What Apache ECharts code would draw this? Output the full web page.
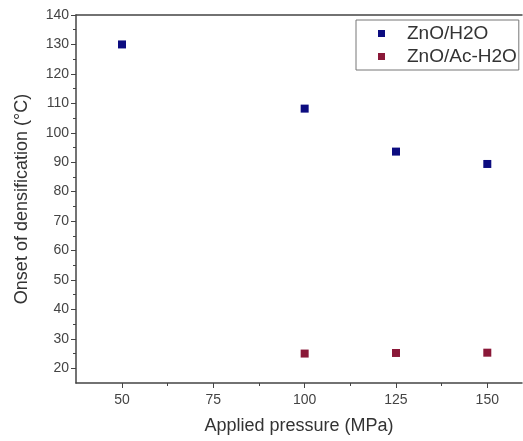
<!DOCTYPE html>
<html>
<head>
<meta charset="utf-8">
<script src="https://cdn.jsdelivr.net/npm/echarts@6/dist/echarts.min.js"></script>
<style>html,body{margin:0;padding:0;background:#fff;}#c{width:523px;height:441px;}</style>
</head>
<body>
<div id="c"></div>
<script>
const pressure = [50, 100, 125, 150];
const znoH2O = [130, 108.2, 93.6, 89.4];
const acPressure = [100, 125, 150];
const znoAcH2O = [25.0, 25.2, 25.3];
const xTicks = [50, 75, 100, 125, 150];
const xMinor = [62.5, 87.5, 112.5, 137.5];
const yTicks = [20, 30, 40, 50, 60, 70, 80, 90, 100, 110, 120, 130, 140];
const yMinor = [25, 35, 45, 55, 65, 75, 85, 95, 105, 115, 125, 135];

const font = 'Liberation Sans, Arial, sans-serif';
const chart = echarts.init(document.getElementById('c'));
const X = {min: 37.4, max: 159.5};
const Y = {min: 15, max: 140};
chart.setOption({
  animation: false,
  grid: {left: 76, right: 1, top: 15, bottom: 58},
  legend: {
    orient: 'vertical', left: 356, top: 20, padding: [4, 2, 4, 22],
    borderColor: '#777', borderWidth: 1, itemWidth: 7, itemHeight: 7, itemGap: 4,
    textStyle: {fontFamily: font, fontSize: 19, color: '#333', padding: [0, 0, 0, 17]},
    data: [{name: 'ZnO/H2O', icon: 'rect'}, {name: 'ZnO/Ac-H2O', icon: 'rect'}]
  },
  xAxis: [
    {type: 'value', ...X, position: 'bottom',
     name: 'Applied pressure (MPa)', nameLocation: 'middle', nameGap: 34,
     nameTextStyle: {fontFamily: font, fontSize: 18, color: '#333'},
     axisLine: {lineStyle: {color: '#444', width: 1.5}},
     axisTick: {show: true, length: 5, inside: false, customValues: xTicks, lineStyle: {color: '#444'}},
     axisLabel: {customValues: xTicks, fontFamily: font, fontSize: 14, color: '#444', margin: 10},
     splitLine: {show: false}},
    {type: 'value', ...X, position: 'bottom', gridIndex: 0,
     axisLine: {show: false},
     axisTick: {show: true, length: 3, customValues: xMinor, lineStyle: {color: '#444'}},
     axisLabel: {show: false}, splitLine: {show: false}},
    {type: 'value', ...X, position: 'top',
     axisLine: {show: true, lineStyle: {color: '#444', width: 1.5}},
     axisTick: {show: false}, axisLabel: {show: false}, splitLine: {show: false}}
  ],
  yAxis: [
    {type: 'value', ...Y, position: 'left',
     name: 'Onset of densification (°C)', nameLocation: 'middle', nameGap: 45,
     nameTextStyle: {fontFamily: font, fontSize: 18, color: '#333'},
     axisLine: {show: true, lineStyle: {color: '#444', width: 1.5}},
     axisTick: {show: true, length: 5, customValues: yTicks, lineStyle: {color: '#444'}},
     axisLabel: {customValues: yTicks, fontFamily: font, fontSize: 14, color: '#444', margin: 7},
     splitLine: {show: false}},
    {type: 'value', ...Y, position: 'left',
     axisLine: {show: false},
     axisTick: {show: true, length: 3, customValues: yMinor, lineStyle: {color: '#444'}},
     axisLabel: {show: false}, splitLine: {show: false}}
  ],
  series: [
    {name: 'ZnO/H2O', type: 'scatter', symbol: 'rect', symbolSize: 8,
     itemStyle: {color: '#0c0c80', opacity: 1},
     data: pressure.map((p, i) => [p, znoH2O[i]])},
    {name: 'ZnO/Ac-H2O', type: 'scatter', symbol: 'rect', symbolSize: 8,
     itemStyle: {color: '#8a1838', opacity: 1},
     data: acPressure.map((p, i) => [p, znoAcH2O[i]])}
  ]
});
</script>
</body>
</html>
